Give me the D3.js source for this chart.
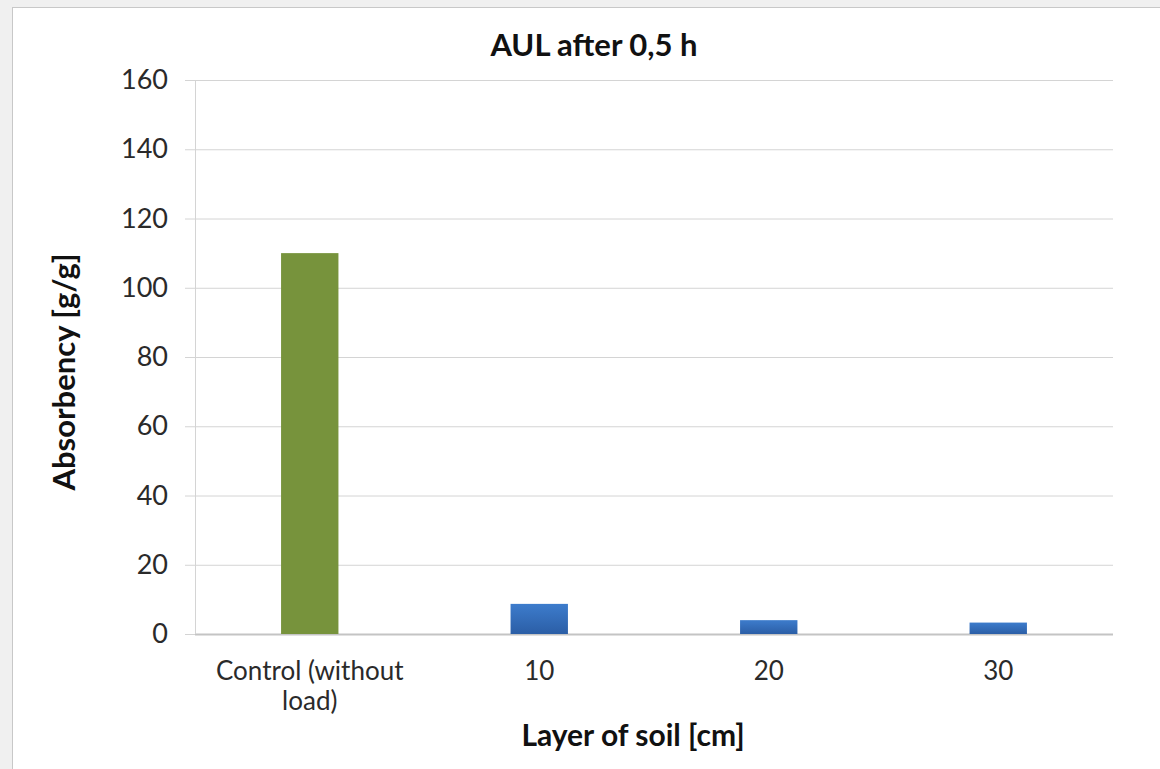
<!DOCTYPE html>
<html>
<head>
<meta charset="utf-8">
<script src="https://cdn.jsdelivr.net/npm/d3@7/dist/d3.min.js"></script>
<style>
	body { margin: 0; background: #f0f0f0; }
	svg { display: block; font-family: Lato, "Open Sans", sans-serif; }
</style>
</head>
<body>
<svg width="1160" height="769"></svg>
<script>
var categories = ["Control (without load)", "10", "20", "30"];
var categoryLines = [["Control (without", "load)"], ["10"], ["20"], ["30"]];
var values = [110, 8.7, 4.0, 3.3];
var yTicks = [0, 20, 40, 60, 80, 100, 120, 140, 160];
var chartTitle = "AUL after 0,5 h";
var xTitle = "Layer of soil [cm]";
var yTitle = "Absorbency [g/g]";

var svg = d3.select("svg"),
	width = 1160,
	height = 769;

var margin = {top: 80, right: 47, bottom: 135, left: 195};

// panel
svg.append("rect")
	.attr("x", 12.5).attr("y", 7.5)
	.attr("width", width - 12).attr("height", height)
	.attr("fill", "#fff")
	.attr("stroke", "#c8c8c8");

var defs = svg.append("defs");
var grad = defs.append("linearGradient")
	.attr("id", "blueGrad")
	.attr("x1", 0).attr("y1", 0).attr("x2", 0).attr("y2", 1);
grad.append("stop").attr("offset", "0%").attr("stop-color", "#3d7ccc");
grad.append("stop").attr("offset", "100%").attr("stop-color", "#2b5ea6");

var x = d3.scaleBand()
	.domain(categories)
	.range([margin.left, width - margin.right])
	.paddingInner(0.75)
	.paddingOuter(0.375);

var y = d3.scaleLinear()
	.domain([0, 160])
	.range([height - margin.bottom, margin.top]);

// gridlines + y ticks
var yAxis = svg.append("g")
	.attr("transform", "translate(" + margin.left + ",0)")
	.call(d3.axisLeft(y).tickValues(yTicks).tickSize(10).tickPadding(17));
yAxis.attr("font-family", null).attr("font-size", null);
yAxis.select(".domain").remove();
yAxis.selectAll(".tick line").attr("stroke", "#d4d4d4");
yAxis.selectAll(".tick text")
	.attr("fill", "#2a2a2a")
	.style("font-size", "27px");

svg.append("g")
	.selectAll("line")
	.data(yTicks)
	.enter().append("line")
	.attr("x1", margin.left)
	.attr("x2", width - margin.right)
	.attr("y1", d => y(d) + 0.5)
	.attr("y2", d => y(d) + 0.5)
	.attr("stroke", d => d == 0 ? "#c4c4c4" : "#d4d4d4")
	.attr("stroke-width", d => d == 0 ? 2 : 1);

svg.append("line")
	.attr("x1", margin.left + 0.5).attr("x2", margin.left + 0.5)
	.attr("y1", y(160)).attr("y2", y(0))
	.attr("stroke", "#d4d4d4");

// bars
svg.append("g")
	.selectAll("rect")
	.data(values)
	.enter().append("rect")
	.attr("x", (d, i) => x(categories[i]))
	.attr("y", d => y(d))
	.attr("width", x.bandwidth())
	.attr("height", d => y(0) - y(d))
	.attr("fill", (d, i) => i == 0 ? "#77933c" : "url(#blueGrad)");

// category labels
var cat = svg.append("g")
	.selectAll("text")
	.data(categoryLines)
	.enter().append("text")
	.attr("x", (d, i) => x(categories[i]) + x.bandwidth() / 2)
	.attr("y", 680)
	.attr("text-anchor", "middle")
	.attr("fill", "#2a2a2a")
	.style("font-size", "26px");
cat.selectAll("tspan")
	.data(d => d)
	.enter().append("tspan")
	.attr("x", function() { return d3.select(this.parentNode).attr("x"); })
	.attr("dy", (d, i) => i == 0 ? 0 : 30)
	.text(d => d);

// titles
svg.append("text")
	.attr("x", 594).attr("y", 56)
	.attr("text-anchor", "middle")
	.style("font-size", "31px").style("font-weight", "bold")
	.attr("fill", "#111")
	.text(chartTitle);

svg.append("text")
	.attr("x", 633).attr("y", 746)
	.attr("text-anchor", "middle")
	.style("font-size", "30px").style("font-weight", "bold")
	.attr("fill", "#111")
	.text(xTitle);

svg.append("text")
	.attr("transform", "translate(75," + 372 + ") rotate(-90)")
	.attr("text-anchor", "middle")
	.style("font-size", "31px").style("font-weight", "bold")
	.attr("fill", "#111")
	.text(yTitle);
</script>
</body>
</html>
